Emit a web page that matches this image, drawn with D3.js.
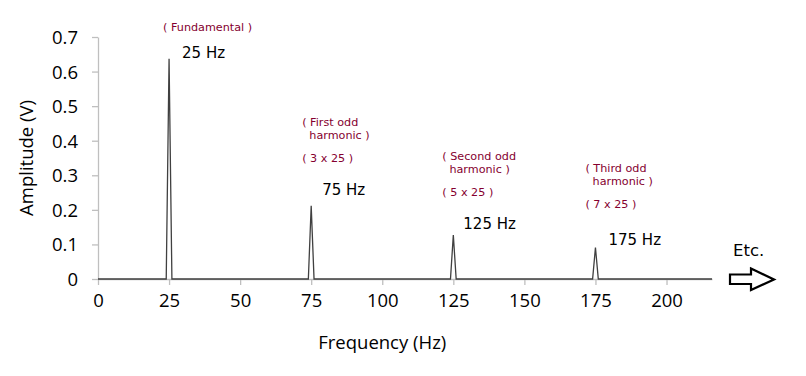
<!DOCTYPE html>
<html>
<head>
<meta charset="utf-8">
<script src="https://cdn.jsdelivr.net/npm/d3@7"></script>
<style>
  body { margin: 0; background: #fff; }
  .tick text { font-family: "Open Sans", Lato, sans-serif; font-size: 18.5px; fill: #000; }
  .note { font-family: "DejaVu Sans", Verdana, sans-serif; font-size: 11.2px; fill: #85002f; }
  .hz { font-family: "DejaVu Sans", Verdana, sans-serif; font-size: 15px; fill: #000; }
</style>
</head>
<body>
<div id="chart"></div>
<script>
// datos: espectro de la onda (pico triangular de +-1 Hz en cada armónico)
const freqHz = [0, 24, 25, 26, 74, 75, 76, 124, 125, 126, 174, 175, 176, 216]
const ampV   = [0, 0, 0.637, 0, 0, 0.212, 0, 0, 0.127, 0, 0, 0.091, 0, 0]

const xTicks = [0, 25, 50, 75, 100, 125, 150, 175, 200]
const yTicks = [0, 0.1, 0.2, 0.3, 0.4, 0.5, 0.6, 0.7]

// etiquetas de los picos
const peakHz = [25, 75, 125, 175]
const peakLabels = ["25 Hz", "75 Hz", "125 Hz", "175 Hz"]
const peakNotes = [
  ["( Fundamental )"],
  ["( First odd", "  harmonic )", "( 3 x 25 )"],
  ["( Second odd", "  harmonic )", "( 5 x 25 )"],
  ["( Third odd", "  harmonic )", "( 7 x 25 )"]
]

// Constantes:
const width = 806
const height = 376
const margins = { top: 37, left: 98, right: 94, bottom: 97 }
const eWidth = width - margins.left - margins.right
const eHeight = height - margins.top - margins.bottom

let svg = d3.select('div#chart').append('svg').attr('width', width).attr('height', height)

// escalas:
let x = d3.scaleLinear().domain([0, 216]).range([margins.left, margins.left + eWidth])
let y = d3.scaleLinear().domain([0, 0.7]).range([margins.top + eHeight, margins.top])

// ejes:
let xAxis = d3.axisBottom(x).tickValues(xTicks).tickSize(6).tickPadding(9).tickSizeOuter(0)
let yAxis = d3.axisLeft(y).tickValues(yTicks).tickSize(6).tickPadding(14).tickSizeOuter(0)
  .tickFormat(d => d === 0 ? "0" : d3.format(".1f")(d))

let xAxisGroup = svg.append('g').attr('transform', `translate(0, ${y(0)})`).call(xAxis)
let yAxisGroup = svg.append('g').attr('transform', `translate(${x(0)}, 0)`).call(yAxis)

svg.selectAll('.domain, .tick line').attr('stroke', '#bfbfbf').attr('stroke-width', 1.3)
yAxisGroup.selectAll('.tick text').attr('dy', '0.35em')

// títulos de los ejes
const titleFont = '"Open Sans", Lato, sans-serif'
svg.append('text')
  .attr('transform', `translate(33, ${y(0.35)}) rotate(-90)`)
  .attr('text-anchor', 'middle')
  .style('font-family', titleFont).style('font-size', '18.5px')
  .text('Amplitude (V)')

svg.append('text')
  .attr('x', x(100)).attr('y', 349)
  .attr('text-anchor', 'middle')
  .style('font-family', titleFont).style('font-size', '18.5px')
  .text('Frequency (Hz)')

// línea del espectro
let line = d3.line().x((d, i) => x(freqHz[i])).y(d => y(d))
svg.append('path')
  .datum(ampV)
  .attr('d', line)
  .attr('fill', 'none')
  .attr('stroke', '#404040')
  .attr('stroke-width', 1.3)

// anotaciones: "xx Hz" junto a cada pico
const hzDx = [13, 11, 10, 13]
const hzDy = [-1, -11, -6, -3]
peakHz.forEach((f, i) => {
  let peak = ampV[freqHz.indexOf(f)]
  svg.append('text').attr('class', 'hz')
    .attr('x', x(f) + hzDx[i]).attr('y', y(peak) + hzDy[i])
    .text(peakLabels[i])
})

// notas en rojo
const noteDx = [-6, -9, -11, -10]
const noteTop = [31, 126, 160, 172]
peakNotes.forEach((lines, i) => {
  let x0 = x(peakHz[i]) + noteDx[i]
  let t = svg.append('text').attr('class', 'note').attr('xml:space', 'preserve')
  lines.forEach((s, j) => {
    t.append('tspan').attr('x', x0).attr('y', noteTop[i] + (j < 2 ? j * 13 : 36)).text(s)
  })
})

// "Etc." y flecha
svg.append('text')
  .attr('x', 733).attr('y', 256)
  .style('font-family', '"DejaVu Sans", Verdana, sans-serif').style('font-size', '16.5px')
  .text('Etc.')

svg.append('path')
  .attr('d', 'M730,274.5 L751,274.5 L751,268.5 L774,279.5 L751,290 L751,284 L730,284 Z')
  .attr('fill', '#fff').attr('stroke', '#000').attr('stroke-width', 2.2)
</script>
</body>
</html>
